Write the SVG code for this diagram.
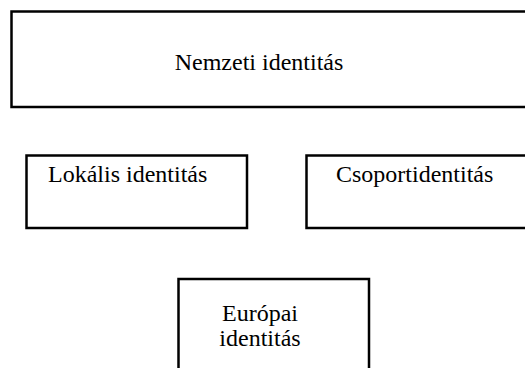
<svg xmlns="http://www.w3.org/2000/svg" width="525" height="368" viewBox="0 0 525 368">
<style>
.box{fill:#fff;stroke:#000;stroke-width:2.5}
text{font-family:"Liberation Serif","Times New Roman",serif;font-size:24px;fill:#000}
</style>
<rect width="525" height="368" fill="#fff"/>
<g id="connectors"></g>
<g id="nemzeti">
<rect class="box" x="11.5" y="11.5" width="530" height="95.5"/>
<text x="259" y="70" text-anchor="middle">Nemzeti identitás</text>
</g>
<g id="lokalis">
<rect class="box" x="26.5" y="155.5" width="220.5" height="72.5"/>
<text x="48" y="182">Lokális identitás</text>
</g>
<g id="csoport">
<rect class="box" x="306.5" y="155.5" width="230" height="72.5"/>
<text x="336" y="182">Csoportidentitás</text>
</g>
<g id="europai">
<rect class="box" x="178.5" y="279" width="190.5" height="100"/>
<text x="260" y="321" text-anchor="middle">Európai</text>
<text x="260" y="346" text-anchor="middle">identitás</text>
</g>
</svg>
